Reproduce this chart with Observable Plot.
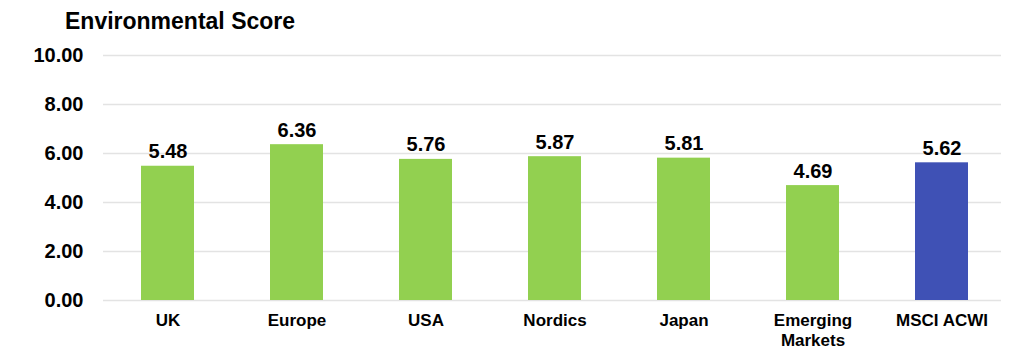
<!DOCTYPE html>
<html><head><meta charset="utf-8">
<script src="https://cdn.jsdelivr.net/npm/d3@7"></script>
<script src="https://cdn.jsdelivr.net/npm/@observablehq/plot@0.6"></script>
<style>
body{margin:0;background:#fff;font-family:"Liberation Sans",Arial,sans-serif;}
#title{height:40px;box-sizing:border-box;padding-left:65px;padding-top:9px;font-size:23px;font-weight:bold;color:#000;line-height:25px;}
</style></head>
<body>
<div id="title">Environmental Score</div>
<div id="chart"></div>
<script>
const categories = ["UK","Europe","USA","Nordics","Japan","Emerging Markets","MSCI ACWI"];
const tickLabels = ["UK","Europe","USA","Nordics","Japan","Emerging\nMarkets","MSCI ACWI"];
const values = [5.48,6.36,5.76,5.87,5.81,4.69,5.62];
const yTicks = [0,2,4,6,8,10];
const colors = ["#92D050","#92D050","#92D050","#92D050","#92D050","#92D050","#3F51B5"];

const data = categories.map((c,i)=>({cat:c, v:values[i], color:colors[i], label:values[i].toFixed(2)}));

const chart = Plot.plot({
  width:1024, height:321,
  marginLeft:103, marginRight:23, marginTop:15, marginBottom:61,
  style:{fontFamily:"'Liberation Sans', Arial, sans-serif", color:"#000", background:"#fff"},
  x:{domain:categories, paddingInner:0.5925, paddingOuter:0.274, align:0.532, label:null},
  y:{domain:[0,10], label:null},
  marks:[
    Plot.ruleY(yTicks,{stroke:"#e3e3e3", strokeWidth:1.5}),
    Plot.barY(data,{x:"cat", y:"v", fill:"color"}),
    Plot.text(data,{x:"cat", y:"v", text:"label", lineAnchor:"bottom", dy:-8, fontSize:20, fontWeight:"bold", fill:"#000"}),
    Plot.axisY({ticks:yTicks, tickFormat:d=>d.toFixed(2), tickSize:0, tickPadding:20, fontSize:20, fontWeight:"bold", label:null}),
    Plot.axisX({tickFormat:(d)=>tickLabels[categories.indexOf(d)], tickSize:0, tickPadding:11, fontSize:17, fontWeight:"bold", label:null, lineHeight:1.18})
  ]
});
document.getElementById("chart").appendChild(chart);
</script>
</body></html>
